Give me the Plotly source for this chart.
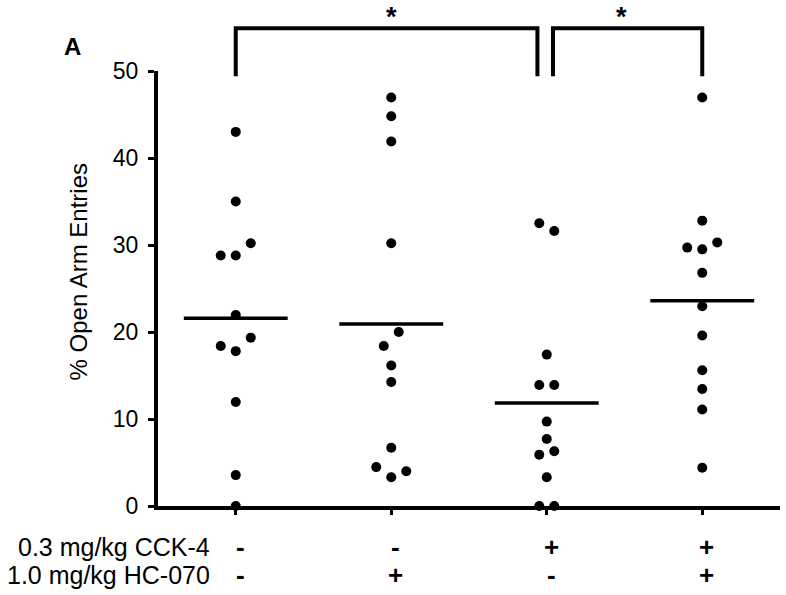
import numpy as np
import plotly.graph_objects as go

# % open arm entries per group
grp1 = [43.0, 35.0, 30.2, 28.8, 28.8, 21.95, 19.35, 18.4, 17.8, 11.95, 3.55, 0.0]
grp2 = [46.95, 44.8, 41.9, 30.2, 20.0, 18.4, 16.15, 14.25, 6.7, 4.47, 4.0, 3.3]
grp3 = [32.5, 31.6, 17.4, 13.9, 13.9, 9.7, 7.7, 6.3, 5.9, 3.3, 0.0, 0.0]
grp4 = [46.95, 32.8, 30.3, 29.7, 29.5, 26.8, 22.95, 19.6, 15.6, 13.45, 11.1, 4.4]

# horizontal slot of each dot (scatter-plot spreading), in dot widths
slot1 = [0, 0, 1, -1, 0, 0, 1, -1, 0, 0, 0, 0]
slot2 = [0, 0, 0, 0, 0.5, -0.5, 0, 0, 0, -1, 1, 0]
slot3 = [-0.5, 0.5, 0, -0.5, 0.5, 0, 0, 0.5, -0.5, 0, -0.5, 0.5]
slot4 = [0, 0, 1, -1, 0, 0, 0, 0, 0, 0, 0, 0]

cck4 = ['-', '-', '+', '+']
hc070 = ['-', '+', '-', '+']
row_labels = ['0.3 mg/kg CCK-4', '1.0 mg/kg HC-070']
y_ticks = [0, 10, 20, 30, 40, 50]

# significance brackets: (group from, group to, star x)
brackets = [(1, 2.94, 2.0), (3.04, 4, 3.48)]

groups = [grp1, grp2, grp3, grp4]
slots = [slot1, slot2, slot3, slot4]

FONT = "Liberation Sans, Arial, sans-serif"
SLOT_W = 0.0965
HALF_W = 0.334
W, H = 786, 595
M_T, M_B = 71, 89

fig = go.Figure()

xs, ys = [], []
for i, (vals, sl) in enumerate(zip(groups, slots)):
    xs += [i + 1 + s * SLOT_W for s in sl]
    ys += vals

fig.add_trace(
    go.Scatter(x=xs, y=ys,
               mode='markers',
               marker=dict(color='black', size=10),
               cliponaxis=False,
               showlegend=False,
               )
)

# mean lines
mx, my = [], []
for i, vals in enumerate(groups):
    m = float(np.mean(vals))
    mx += [i + 1 - HALF_W, i + 1 + HALF_W, None]
    my += [m, m, None]

fig.add_trace(
    go.Scatter(x=mx, y=my,
               mode='lines',
               line=dict(color='black', width=3.5),
               showlegend=False,
               )
)

fig.update_layout(
    font=dict(family=FONT, size=23, color='black'),
    plot_bgcolor='white',
    paper_bgcolor='white',
    width=W,
    height=H,
    margin=dict(l=158, r=6, t=M_T, b=M_B),
    xaxis=dict(range=[0.5, 4.5],
               showgrid=False, zeroline=False,
               showline=True, linecolor='black', linewidth=4,
               tickmode='array', tickvals=[1, 2, 3, 4],
               ticks='outside', ticklen=5, tickwidth=3, tickcolor='black',
               showticklabels=False,
               ),
    yaxis=dict(range=[0, 50],
               showgrid=False, zeroline=False,
               showline=True, linecolor='black', linewidth=4,
               tickmode='array', tickvals=y_ticks,
               ticks='outside', ticklen=6, tickwidth=3, tickcolor='black',
               ticklabelstandoff=5,
               ),
)

# y axis title
fig.add_annotation(text='% Open Arm Entries', textangle=-90,
                   xref='paper', yref='paper', x=-0.1286, y=0.537,
                   xanchor='center', yanchor='middle', showarrow=False,
                   font=dict(size=24))

# panel letter
fig.add_annotation(text='<b>A</b>', xref='paper', yref='paper', x=-0.137, y=1.057,
                   xanchor='center', yanchor='middle', showarrow=False,
                   font=dict(size=24))

# treatment table under the axis
row_y = [-0.094, -0.159]
for lab, yy in zip(row_labels, row_y):
    fig.add_annotation(text=lab, xref='paper', yref='paper', x=0.0868, y=yy,
                       xanchor='right', yanchor='middle', showarrow=False,
                       font=dict(size=25))
for i, (a, b) in enumerate(zip(cck4, hc070)):
    for s, yy in zip([a, b], row_y):
        fig.add_annotation(text=f'<b>{s}</b>', xref='x', yref='paper', x=i + 1.03, y=yy,
                           xanchor='center', yanchor='middle', showarrow=False,
                           font=dict(size=26))

# brackets with stars (heights in data units, paper = value / 50)
low, high = 49.4, 54.9
plot_h = H - M_T - M_B
for x0, x1, xs_ in brackets:
    fig.add_shape(type='path', xref='x', yref='paper',
                  path=f'M {x0} {low / 50} L {x0} {high / 50} L {x1} {high / 50} L {x1} {low / 50}',
                  line=dict(color='black', width=4))
    fig.add_annotation(text='<b>*</b>', xref='x', yref='paper', x=xs_, y=1 + M_T / plot_h,
                       xanchor='center', yanchor='top', showarrow=False,
                       font=dict(size=27))

# drop the default 8px page margin so the figure fills the window
fig.write_html("out.html", config=dict(displayModeBar=False),
               post_script="document.body.style.margin='0px';")
